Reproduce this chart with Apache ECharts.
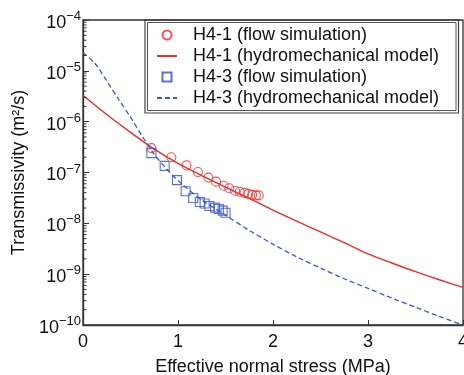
<!DOCTYPE html>
<html>
<head>
<meta charset="utf-8">
<script src="https://cdn.jsdelivr.net/npm/echarts@6/dist/echarts.min.js"></script>
<style>
  html, body { margin: 0; padding: 0; background: #fff; }
  #chart { width: 464px; height: 375px; }
</style>
</head>
<body>
<div id="chart"></div>
<script>
// H4-1: transmissivity from the flow simulation (MPa, m2/s)
const h41SimStress = [0.72, 0.93, 1.09, 1.21, 1.32, 1.40, 1.48, 1.54, 1.60, 1.65, 1.70, 1.74, 1.78, 1.82, 1.85];
const h41SimTrans = [3.02e-7, 2.00e-7, 1.38e-7, 1.02e-7, 7.94e-8, 6.61e-8, 5.50e-8, 4.90e-8, 4.37e-8, 4.17e-8, 3.98e-8, 3.80e-8, 3.63e-8, 3.55e-8, 3.55e-8];

// H4-1: hydromechanical model curve
const h41ModelStress = [0, 0.25, 0.5, 0.75, 1.0, 1.25, 1.5, 1.75, 2.0, 2.25, 2.5, 2.75, 3.0, 3.25, 3.5, 3.75, 4.0];
const h41ModelTrans = [3.31e-6, 1.38e-6, 6.17e-7, 2.88e-7, 1.51e-7, 8.71e-8, 5.13e-8, 3.09e-8, 1.82e-8, 1.10e-8, 6.76e-9, 4.17e-9, 2.51e-9, 1.66e-9, 1.12e-9, 7.76e-10, 5.50e-10];

// H4-3: transmissivity from the flow simulation
const h43SimStress = [0.72, 0.86, 0.99, 1.08, 1.16, 1.23, 1.28, 1.33, 1.39, 1.43, 1.47, 1.50];
const h43SimTrans = [2.40e-7, 1.35e-7, 7.08e-8, 4.27e-8, 3.16e-8, 2.63e-8, 2.45e-8, 2.19e-8, 2.04e-8, 1.91e-8, 1.78e-8, 1.62e-8];

// H4-3: hydromechanical model curve
const h43ModelStress = [0, 0.125, 0.25, 0.375, 0.5, 0.625, 0.75, 0.875, 1.0, 1.25, 1.5, 1.75, 2.0, 2.25, 2.5, 2.75, 3.0, 3.25, 3.5, 3.75, 4.0];
const h43ModelTrans = [2.29e-5, 1.41e-5, 6.31e-6, 2.75e-6, 1.23e-6, 5.13e-7, 2.29e-7, 1.20e-7, 6.92e-8, 2.88e-8, 1.45e-8, 7.24e-9, 3.89e-9, 2.19e-9, 1.32e-9, 8.13e-10, 5.25e-10, 3.39e-10, 2.24e-10, 1.48e-10, 1.00e-10];

// Axis ranges and ticks
const stressTicks = [0, 1, 2, 3, 4];
const transMin = 1e-10;
const transMax = 1e-4;

// Series names shown in the legend
const seriesNames = [
  'H4-1 (flow simulation)',
  'H4-1 (hydromechanical model)',
  'H4-3 (flow simulation)',
  'H4-3 (hydromechanical model)'
];

const RED = '#ee2a2a';
const BLUE = '#2f4fcc';
const BLUE_DASH = '#3a58d0';
const AXIS = '#333';
const FONT = '"Liberation Sans", Arial, sans-serif';

const pairs = (xs, ys) => xs.map((x, i) => [x, ys[i]]);

// Minor tick positions (2..9 within each decade) for the log axis
const minorTicks = [];
for (let e = Math.log10(transMin); e < Math.log10(transMax); e++) {
  for (let k = 2; k <= 9; k++) minorTicks.push([0, k * Math.pow(10, e)]);
}

// Line entries in the legend show only the stroke, no point marker
const noMarker = { color: 'rgba(0,0,0,0)', borderWidth: 0, opacity: 0 };

const chart = echarts.init(document.getElementById('chart'), null, { renderer: 'canvas' });

chart.setOption({
  animation: false,
  backgroundColor: '#fff',
  textStyle: { fontFamily: FONT },
  grid: {
    left: 83, right: 1, top: 20, bottom: 50,
    outerBoundsMode: 'none',
    containLabel: false,
    show: true, borderColor: AXIS, borderWidth: 1.3, backgroundColor: 'transparent'
  },
  legend: {
    orient: 'vertical',
    left: 156, top: 24.5,
    padding: 0,
    itemGap: 0,
    itemWidth: 20,
    itemHeight: 9,
    symbolKeepAspect: true,
    data: [
      { name: seriesNames[0] },
      { name: seriesNames[1], itemStyle: noMarker },
      { name: seriesNames[2], icon: 'path://M0 0H10V10H0Z' },
      { name: seriesNames[3], itemStyle: noMarker }
    ],
    formatter: name => '{g|}' + name,
    textStyle: {
      fontFamily: FONT, fontSize: 18, color: '#111', lineHeight: 21,
      rich: { g: { width: 11 } }
    }
  },
  graphic: [
    { type: 'rect', z: -1, shape: { x: 145, y: 20, width: 313.5, height: 93 },
      style: { fill: '#fff', stroke: '#444', lineWidth: 1.2 } },
    { type: 'rect', z: -1, shape: { x: 147.5, y: 22.5, width: 308.5, height: 88 },
      style: { fill: 'none', stroke: '#555', lineWidth: 1 } }
  ],
  xAxis: {
    type: 'value',
    min: stressTicks[0],
    max: stressTicks[stressTicks.length - 1],
    interval: 1,
    name: 'Effective normal stress (MPa)',
    nameLocation: 'middle',
    nameGap: 33,
    nameTextStyle: { fontFamily: FONT, fontSize: 18, color: '#111' },
    axisLine: { show: true, lineStyle: { color: AXIS, width: 1.3 } },
    axisTick: { show: true, inside: true, length: 5, lineStyle: { color: AXIS } },
    axisLabel: { fontFamily: FONT, fontSize: 18, color: '#111', margin: 8, showMaxLabel: true, showMinLabel: true },
    splitLine: { show: false }
  },
  yAxis: {
    type: 'log',
    logBase: 10,
    min: transMin,
    max: transMax,
    interval: 1,
    name: 'Transmissivity (m²/s)',
    nameLocation: 'middle',
    nameGap: 47,
    nameTextStyle: { fontFamily: FONT, fontSize: 18, color: '#111' },
    axisLine: { show: true, lineStyle: { color: AXIS, width: 1.3 } },
    axisTick: { show: true, inside: true, length: 6, lineStyle: { color: AXIS } },
    axisLabel: {
      margin: 2,
      formatter: v => '{b|10}{s|−' + Math.round(-Math.log10(v)) + '}',
      rich: {
        b: { fontFamily: FONT, fontSize: 18, color: '#111', verticalAlign: 'bottom', padding: [6, 0, 0, 0] },
        s: { fontFamily: FONT, fontSize: 13, color: '#111', verticalAlign: 'bottom', padding: [0, 0, 9, 0] }
      }
    },
    splitLine: { show: false }
  },
  series: [
    {
      name: seriesNames[0],
      type: 'scatter',
      symbol: 'circle',
      symbolSize: 9,
      itemStyle: { color: 'rgba(0,0,0,0)', borderColor: RED, borderWidth: 1.1 },
      data: pairs(h41SimStress, h41SimTrans),
      z: 3
    },
    {
      name: seriesNames[1],
      type: 'line',
      smooth: 0.3,
      showSymbol: false,
      symbol: 'none',
      lineStyle: { color: RED, width: 1.4 },
      itemStyle: { color: RED },
      data: pairs(h41ModelStress, h41ModelTrans),
      z: 2
    },
    {
      name: seriesNames[2],
      type: 'scatter',
      symbol: 'rect',
      symbolSize: 9,
      itemStyle: { color: 'rgba(0,0,0,0)', borderColor: BLUE, borderWidth: 1.1 },
      data: pairs(h43SimStress, h43SimTrans),
      z: 3
    },
    {
      name: seriesNames[3],
      type: 'line',
      smooth: 0.3,
      showSymbol: false,
      symbol: 'none',
      lineStyle: { color: BLUE_DASH, width: 1.3, type: [5, 3] },
      itemStyle: { color: BLUE_DASH },
      data: pairs(h43ModelStress, h43ModelTrans),
      z: 2
    },
    {
      // minor ticks of the logarithmic transmissivity axis
      type: 'custom',
      silent: true,
      clip: false,
      z: 4,
      data: minorTicks,
      renderItem: (params, api) => {
        const p = api.coord([api.value(0), api.value(1)]);
        return {
          type: 'line',
          shape: { x1: p[0], y1: p[1], x2: p[0] + 3.5, y2: p[1] },
          style: { stroke: AXIS, lineWidth: 1 }
        };
      }
    }
  ]
});
</script>
</body>
</html>
